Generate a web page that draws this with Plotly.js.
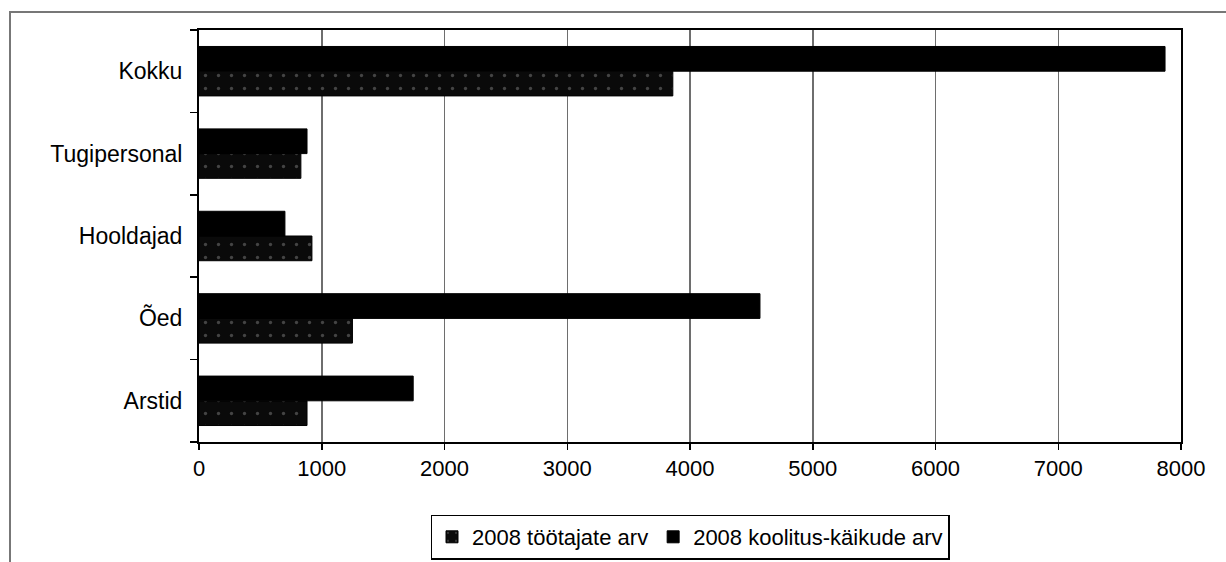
<!DOCTYPE html>
<html>
<head>
<meta charset="utf-8">
<script src="https://cdn.plot.ly/plotly-3.0.1.min.js"></script>
<style>
  html, body { margin:0; padding:0; background:#fff; }
  #wrap { position:relative; width:1226px; height:562px; overflow:hidden; }
  #frame { position:absolute; left:9px; top:11px; width:1300px; height:700px; border-left:2px solid #777; border-top:2px solid #777; box-sizing:border-box; pointer-events:none; z-index:2; }
  #chart { position:absolute; left:0; top:0; width:1226px; height:562px; }
</style>
</head>
<body>
<div id="wrap">
  <div id="chart"></div>
  <div id="frame"></div>
</div>
<script>
const categories = ['Arstid', 'Õed', 'Hooldajad', 'Tugipersonal', 'Kokku'];
const tootajad = [880, 1250, 920, 830, 3860];
const koolitused = [1745, 4570, 700, 880, 7870];
const seriesNames = ['2008 töötajate arv', '2008 koolitus-käikude arv'];
const xTicks = [0, 1000, 2000, 3000, 4000, 5000, 6000, 7000, 8000];

const family = 'Liberation Sans, Arial, sans-serif';

const traces = [
  {
    type: 'bar', orientation: 'h', name: seriesNames[0],
    y: categories, x: tootajad,
    marker: {
      color: '#0d0d0d',
      line: {color: '#000', width: 1},
      pattern: {shape: '.', bgcolor: '#0a0a0a', fgcolor: '#444', size: 13, solidity: 0.05}
    },
    hoverinfo: 'x+y'
  },
  {
    type: 'bar', orientation: 'h', name: seriesNames[1],
    y: categories, x: koolitused,
    marker: {color: '#000', line: {color: '#000', width: 1}},
    hoverinfo: 'x+y'
  }
];

const layout = {
  width: 1226, height: 562,
  margin: {l: 199, r: 45, t: 30, b: 120, pad: 0, autoexpand: false},
  paper_bgcolor: '#fff', plot_bgcolor: '#fff',
  font: {family: family, size: 23, color: '#000'},
  barmode: 'group',
  bargap: 0.4, bargroupgap: 0,
  showlegend: true,
  legend: {
    orientation: 'h', x: 0.5, xanchor: 'center', y: -0.176, yanchor: 'top',
    bordercolor: '#000', borderwidth: 1.5, bgcolor: '#fff',
    font: {family: family, size: 22, color: '#000'},
    itemwidth: 30, tracegroupgap: 0, traceorder: 'normal'
  },
  xaxis: {
    range: [0, 8000], tickvals: xTicks, ticktext: xTicks.map(String),
    showgrid: true, gridcolor: '#6e6e6e', gridwidth: 1.5,
    zeroline: false,
    showline: true, linecolor: '#000', linewidth: 2, mirror: true,
    ticks: 'outside', ticklen: 6, tickcolor: '#000', tickwidth: 1.5,
    tickfont: {family: family, size: 22, color: '#000'},
    fixedrange: true
  },
  yaxis: {
    categoryorder: 'array', categoryarray: categories,
    showgrid: false, zeroline: false,
    showline: true, linecolor: '#000', linewidth: 2, mirror: true,
    ticks: 'outside', tickson: 'boundaries', ticklen: 7, tickcolor: '#000', tickwidth: 1.5,
    ticklabelstandoff: 10,
    tickfont: {family: family, size: 23, color: '#000'},
    fixedrange: true
  }
};

Plotly.newPlot('chart', traces, layout, {displayModeBar: false, staticPlot: true});
</script>
</body>
</html>
